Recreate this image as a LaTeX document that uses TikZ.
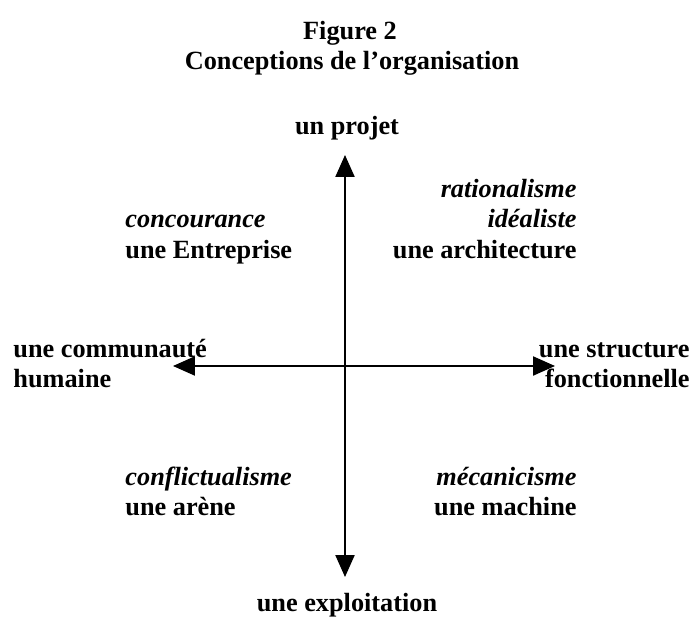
\documentclass[tikz,border=0pt,12pt]{standalone}
\usepackage{fontspec}
\setmainfont{Liberation Serif}
\usepackage{tikz}
\usetikzlibrary{arrows.meta}

\tikzset{
  lbl/.style={font=\fontsize{12}{14}\selectfont\bfseries, inner sep=0pt},
  ital/.style={font=\fontsize{12}{14}\selectfont\bfseries\itshape, inner sep=0pt},
  axe/.style={line width=0.8pt, {Triangle[length=10pt,width=8.7pt]}-{Triangle[length=10pt,width=8.7pt]}}
}

\begin{document}
\begin{tikzpicture}[x=0.4566pt, y=-0.4566pt]
\useasboundingbox (0,0) rectangle (695,617);
% titre
\node[lbl, anchor=base] (fig) at (350,40) {Figure 2};
\node[lbl, anchor=base] (titre) at (352,70) {Conceptions de l’organisation};
% axes
\coordinate (haut) at (345,155);
\coordinate (bas) at (345,577);
\coordinate (gauche) at (173,366);
\coordinate (droite) at (555,366);
\draw[axe] (haut) -- (bas);
\draw[axe] (gauche) -- (droite);
% poles
\node[lbl, anchor=base] (projet) at (347,135) {un projet};
\node[lbl, anchor=base] (exploit) at (347,611) {une exploitation};
\node[lbl, anchor=base west] (commu) at (13,357) {une communauté};
\node[lbl, anchor=base west] (humaine) at (13,387) {humaine};
\node[lbl, anchor=base east] (struct) at (690,357) {une structure};
\node[lbl, anchor=base east] (fonct) at (690,387) {fonctionnelle};
% quadrants
\node[ital, anchor=base east] (ratio) at (577,197) {rationalisme};
\node[ital, anchor=base east] (ideal) at (577,227) {idéaliste};
\node[lbl, anchor=base east] (archi) at (577,258) {une architecture};
\node[ital, anchor=base west] (concour) at (125,227) {concourance};
\node[lbl, anchor=base west] (entre) at (125,258) {une Entreprise};
\node[ital, anchor=base west] (conflit) at (125,485) {conflictualisme};
\node[lbl, anchor=base west] (arene) at (125,515) {une arène};
\node[ital, anchor=base east] (meca) at (577,485) {mécanicisme};
\node[lbl, anchor=base east] (machine) at (577,515) {une machine};
\end{tikzpicture}
\end{document}
